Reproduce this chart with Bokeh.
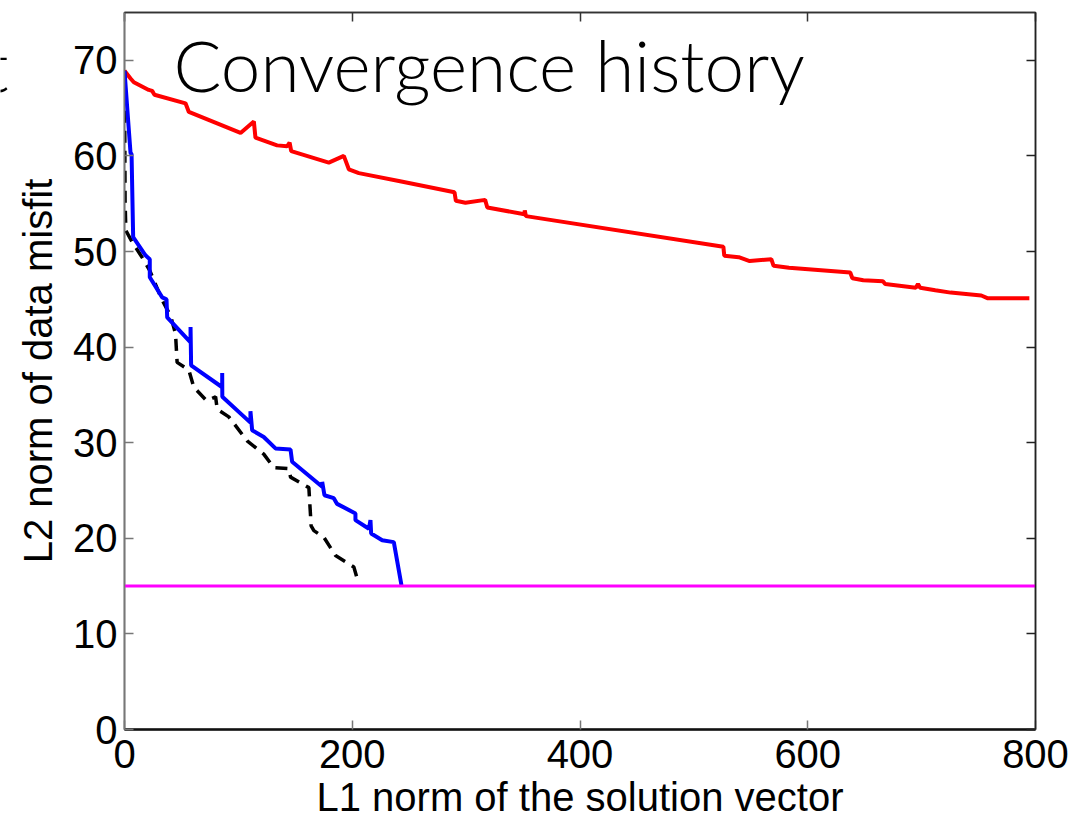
from bokeh.plotting import figure
from bokeh.layouts import row
from bokeh.models import LinearAxis, FixedTicker, CustomJSTickFormatter, Label, Range1d
from bokeh.embed import file_html
from bokeh.resources import INLINE

# Convergence paths: L1 norm of the solution vs L2 norm of the data misfit
red_x = [0, 5.3, 8.2, 21.3, 24.3, 26.3, 53.6, 56.5, 101.9, 113.6, 115, 134, 142.8, 145, 146.4,
         179.4, 192.6, 197, 205.8, 242, 289.8, 291, 299.4, 316.7, 318.6, 351.2, 351.5, 352.5,
         525.9, 526.7, 539.4, 549, 568, 570, 583.5, 637.3, 639.2, 648.8, 666, 668, 694.9,
         696.8, 698.7, 712, 725.5, 752.4, 758.2, 794.6]
red_y = [68.9, 68.1, 67.7, 66.9, 66.8, 66.4, 65.5, 64.6, 62.4, 63.6, 61.9, 61.1, 61.0, 61.4, 60.5,
         59.3, 60.0, 58.6, 58.2, 57.35, 56.2, 55.3, 55.1, 55.4, 54.6, 53.9, 54.3, 53.7,
         50.5, 49.55, 49.4, 49.0, 49.2, 48.5, 48.3, 47.8, 47.2, 47.0, 46.9, 46.6, 46.2,
         46.6, 46.2, 45.95, 45.7, 45.4, 45.1, 45.1]

blue_x = [0, 5.3, 6.2, 7.6, 18.4, 22.2, 22.2, 33.1, 36.9, 37.5, 58, 58, 58.5, 85.8, 85.8, 85.9,
          110.6, 110.6, 112.1, 122.3, 132.6, 145.8, 147.2, 173.6, 173.6, 175.6, 183.8, 186.7,
          202.8, 202.8, 214.6, 216, 216.6, 226.3, 236.5, 243.2]
blue_y = [68.9, 60.3, 60.2, 51.5, 49.6, 49.2, 47.3, 45.2, 45.0, 43.1, 40.5, 42.1, 38.1, 35.8, 37.3, 34.8,
          32.1, 33.3, 31.3, 30.6, 29.4, 29.3, 28.0, 25.4, 25.9, 24.5, 24.2, 23.6,
          22.6, 21.9, 21.0, 21.9, 20.5, 19.8, 19.6, 15.1]

dash_x = [0, 0.5, 1.2, 6.7, 17, 22.2, 33.1, 40.4, 44.8, 46.2, 56.5, 60.9, 72, 80, 81.4, 91.6,
          107.7, 122.3, 131.1, 144.3, 145.8, 161.9, 163.9, 166.3, 175.1, 185.3, 201.4, 204.3]
dash_y = [68.9, 55.3, 52.2, 51.0, 49.1, 48.0, 44.9, 43.3, 41.4, 38.4, 37.6, 35.8, 34.4, 34.8, 33.5, 32.7,
          30.2, 28.8, 27.4, 27.3, 26.4, 25.3, 21.3, 20.8, 20.1, 18.2, 17.0, 15.8]

target_x = [0, 800]
target_y = [15, 15]

x_ticks = [0, 200, 400, 600, 800]
y_ticks = [0, 10, 20, 30, 40, 50, 60, 70]

TICK_FONT = "Liberation Sans"
TITLE_FONT = "Lato Light, Lato"
TITLE_SIZE = "71px"
TITLE_Y = 69.53

STRIP_W = 12  # narrow strip on the left holding the edge of the neighbouring panel's title

p = figure(width=1086 - STRIP_W, height=821, output_backend="svg", toolbar_location=None,
           x_range=Range1d(0, 800), y_range=Range1d(0, 75),
           x_axis_location=None, y_axis_location=None,
           min_border_left=124 - STRIP_W, min_border_right=51, min_border_top=12,
           min_border_bottom=92)
p.background_fill_color = "white"
p.border_fill_color = "white"
p.outline_line_color = "#222222"
p.outline_line_width = 1.5
p.xgrid.visible = False
p.ygrid.visible = False

blank = CustomJSTickFormatter(code="return ''")


def style_axis(ax, ticks, line_color, line_width, show_labels):
    ax.ticker = FixedTicker(ticks=ticks)
    ax.major_tick_in = 9
    ax.major_tick_out = 0
    ax.minor_tick_line_color = None
    ax.major_tick_line_color = line_color
    ax.major_tick_line_width = 1.5
    ax.axis_line_color = line_color
    ax.axis_line_width = line_width
    if show_labels:
        ax.major_label_text_font = TICK_FONT
        ax.major_label_text_font_size = "40px"
        ax.major_label_text_color = "black"
        ax.axis_label_text_font = TICK_FONT
        ax.axis_label_text_font_size = "40px"
        ax.axis_label_text_font_style = "normal"
        ax.axis_label_text_color = "black"
    else:
        ax.formatter = blank
        ax.major_label_text_font_size = "0px"
        ax.major_label_standoff = 0


xb = LinearAxis(axis_label="L1 norm of the solution vector")
style_axis(xb, x_ticks, "#111111", 2.5, True)
xb.major_tick_line_color = "#777777"
xb.major_label_standoff = 10
xb.axis_label_standoff = 4
p.add_layout(xb, "below")

yl = LinearAxis(axis_label="L2 norm of data misfit")
style_axis(yl, y_ticks, "#777777", 1.5, True)
yl.major_label_standoff = 7
yl.axis_label_standoff = 10
p.add_layout(yl, "left")

xt = LinearAxis()
style_axis(xt, x_ticks, "#333333", 1.5, False)
p.add_layout(xt, "above")

yr = LinearAxis()
style_axis(yr, y_ticks, "#222222", 1.5, False)
p.add_layout(yr, "right")

p.line(red_x, red_y, line_color="#ff0000", line_width=4)
p.line(dash_x, dash_y, line_color="black", line_width=3.5, line_dash="12 8")
p.line(blue_x, blue_y, line_color="#0000ff", line_width=4)
p.line(target_x, target_y, line_color="#ff00ff", line_width=3)

# panel title drawn inside the axes
p.add_layout(Label(x=43, y=TITLE_Y, text="Convergence history", text_font=TITLE_FONT,
                   text_font_size=TITLE_SIZE, text_color="black", text_baseline="middle"))

# left strip: only the last letter of the neighbouring title reaches into this panel
s = figure(width=STRIP_W, height=821, output_backend="svg", toolbar_location=None,
           x_range=Range1d(0, STRIP_W), y_range=Range1d(0, 75),
           x_axis_location=None, y_axis_location=None,
           min_border_left=0, min_border_right=0, min_border_top=12, min_border_bottom=92)
s.outline_line_color = None
s.background_fill_color = "white"
s.border_fill_color = "white"
s.xgrid.visible = False
s.ygrid.visible = False
s.add_layout(Label(x=8, y=TITLE_Y, text="t", text_font=TITLE_FONT, text_align="right",
                   text_font_size=TITLE_SIZE, text_color="black", text_baseline="middle"))

layout = row(s, p, spacing=0)
open("out.html", "w").write(file_html(layout, INLINE))
